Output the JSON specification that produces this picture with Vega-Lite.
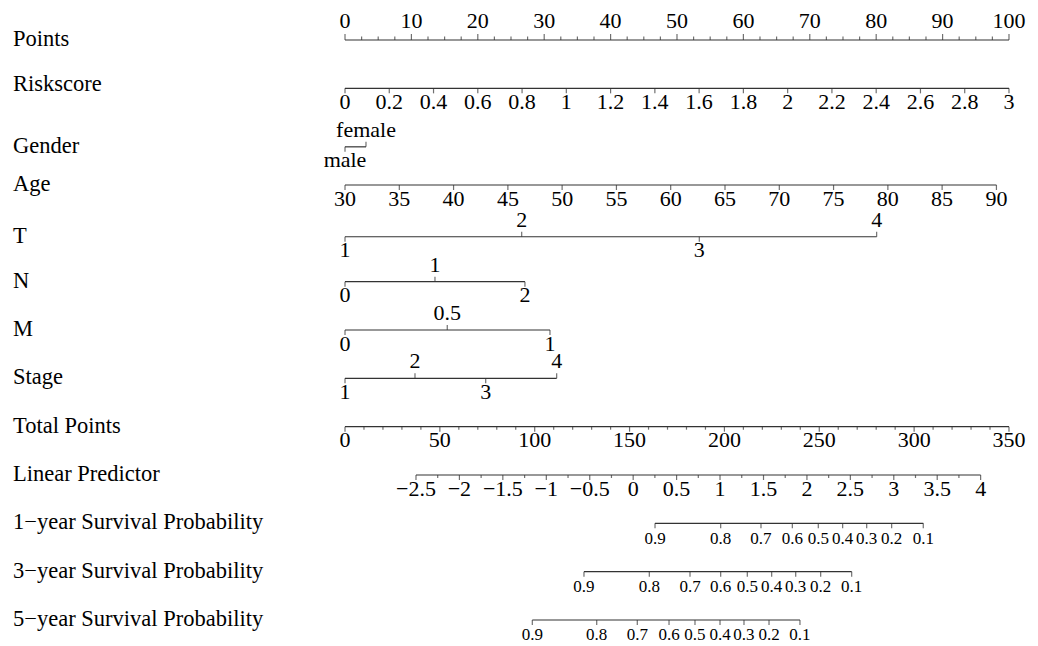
{
  "$schema": "https://vega.github.io/schema/vega-lite/v6.json",
  "width": 1038,
  "height": 646,
  "padding": 0,
  "autosize": {"type": "fit", "contains": "padding"},
  "background": "white",
  "config": {"view": {"stroke": null}},
  "datasets": {
    "lines": [
      {"r": 0, "p1": 0, "p2": 100},
      {"r": 1, "p1": 0, "p2": 100},
      {"r": 2.21, "p1": 0, "p2": 3.16},
      {"r": 3, "p1": 0, "p2": 98.11},
      {"r": 4.07, "p1": 0, "p2": 80.07},
      {"r": 5, "p1": 0, "p2": 27.1},
      {"r": 6, "p1": 0, "p2": 30.87},
      {"r": 7, "p1": 0, "p2": 31.88},
      {"r": 8, "p1": 0, "p2": 100},
      {"r": 9, "p1": 10.69, "p2": 95.73},
      {"r": 10, "p1": 46.69, "p2": 87.09},
      {"r": 11, "p1": 35.99, "p2": 76.31},
      {"r": 12, "p1": 28.21, "p2": 68.52}
    ],
    "names": [
      {"r": 0, "name": "Points"},
      {"r": 0.93, "name": "Riskscore"},
      {"r": 2.21, "name": "Gender"},
      {"r": 3, "name": "Age"},
      {"r": 4.07, "name": "T"},
      {"r": 5, "name": "N"},
      {"r": 6, "name": "M"},
      {"r": 7, "name": "Stage"},
      {"r": 8, "name": "Total Points"},
      {"r": 9, "name": "Linear Predictor"},
      {"r": 10, "name": "1−year Survival Probability"},
      {"r": 11, "name": "3−year Survival Probability"},
      {"r": 12, "name": "5−year Survival Probability"}
    ],
    "ticks": [
      {"r":0,"p":0,"t":"0","s":"a"},{"r":0,"p":2.5,"t":"","s":"a"},{"r":0,"p":5,"t":"","s":"a"},{"r":0,"p":7.5,"t":"","s":"a"},
      {"r":0,"p":10,"t":"10","s":"a"},{"r":0,"p":12.5,"t":"","s":"a"},{"r":0,"p":15,"t":"","s":"a"},{"r":0,"p":17.5,"t":"","s":"a"},
      {"r":0,"p":20,"t":"20","s":"a"},{"r":0,"p":22.5,"t":"","s":"a"},{"r":0,"p":25,"t":"","s":"a"},{"r":0,"p":27.5,"t":"","s":"a"},
      {"r":0,"p":30,"t":"30","s":"a"},{"r":0,"p":32.5,"t":"","s":"a"},{"r":0,"p":35,"t":"","s":"a"},{"r":0,"p":37.5,"t":"","s":"a"},
      {"r":0,"p":40,"t":"40","s":"a"},{"r":0,"p":42.5,"t":"","s":"a"},{"r":0,"p":45,"t":"","s":"a"},{"r":0,"p":47.5,"t":"","s":"a"},
      {"r":0,"p":50,"t":"50","s":"a"},{"r":0,"p":52.5,"t":"","s":"a"},{"r":0,"p":55,"t":"","s":"a"},{"r":0,"p":57.5,"t":"","s":"a"},
      {"r":0,"p":60,"t":"60","s":"a"},{"r":0,"p":62.5,"t":"","s":"a"},{"r":0,"p":65,"t":"","s":"a"},{"r":0,"p":67.5,"t":"","s":"a"},
      {"r":0,"p":70,"t":"70","s":"a"},{"r":0,"p":72.5,"t":"","s":"a"},{"r":0,"p":75,"t":"","s":"a"},{"r":0,"p":77.5,"t":"","s":"a"},
      {"r":0,"p":80,"t":"80","s":"a"},{"r":0,"p":82.5,"t":"","s":"a"},{"r":0,"p":85,"t":"","s":"a"},{"r":0,"p":87.5,"t":"","s":"a"},
      {"r":0,"p":90,"t":"90","s":"a"},{"r":0,"p":92.5,"t":"","s":"a"},{"r":0,"p":95,"t":"","s":"a"},{"r":0,"p":97.5,"t":"","s":"a"},
      {"r":0,"p":100,"t":"100","s":"a"},

      {"r":1,"p":0,"t":"0","s":"b"},{"r":1,"p":6.667,"t":"0.2","s":"b"},{"r":1,"p":13.333,"t":"0.4","s":"b"},{"r":1,"p":20,"t":"0.6","s":"b"},
      {"r":1,"p":26.667,"t":"0.8","s":"b"},{"r":1,"p":33.333,"t":"1","s":"b"},{"r":1,"p":40,"t":"1.2","s":"b"},{"r":1,"p":46.667,"t":"1.4","s":"b"},
      {"r":1,"p":53.333,"t":"1.6","s":"b"},{"r":1,"p":60,"t":"1.8","s":"b"},{"r":1,"p":66.667,"t":"2","s":"b"},{"r":1,"p":73.333,"t":"2.2","s":"b"},
      {"r":1,"p":80,"t":"2.4","s":"b"},{"r":1,"p":86.667,"t":"2.6","s":"b"},{"r":1,"p":93.333,"t":"2.8","s":"b"},{"r":1,"p":100,"t":"3","s":"b"},

      {"r":2.21,"p":0,"t":"male","s":"b"},{"r":2.21,"p":3.16,"t":"female","s":"a"},

      {"r":3,"p":0,"t":"30","s":"b"},{"r":3,"p":8.18,"t":"35","s":"b"},{"r":3,"p":16.35,"t":"40","s":"b"},{"r":3,"p":24.53,"t":"45","s":"b"},
      {"r":3,"p":32.7,"t":"50","s":"b"},{"r":3,"p":40.88,"t":"55","s":"b"},{"r":3,"p":49.05,"t":"60","s":"b"},{"r":3,"p":57.23,"t":"65","s":"b"},
      {"r":3,"p":65.41,"t":"70","s":"b"},{"r":3,"p":73.58,"t":"75","s":"b"},{"r":3,"p":81.76,"t":"80","s":"b"},{"r":3,"p":89.93,"t":"85","s":"b"},
      {"r":3,"p":98.11,"t":"90","s":"b"},

      {"r":4.07,"p":0,"t":"1","s":"b"},{"r":4.07,"p":26.61,"t":"2","s":"a"},{"r":4.07,"p":53.36,"t":"3","s":"b"},{"r":4.07,"p":80.07,"t":"4","s":"a"},

      {"r":5,"p":0,"t":"0","s":"b"},{"r":5,"p":13.55,"t":"1","s":"a"},{"r":5,"p":27.1,"t":"2","s":"b"},

      {"r":6,"p":0,"t":"0","s":"b"},{"r":6,"p":15.4,"t":"0.5","s":"a"},{"r":6,"p":30.87,"t":"1","s":"b"},

      {"r":7,"p":0,"t":"1","s":"b"},{"r":7,"p":10.54,"t":"2","s":"a"},{"r":7,"p":21.19,"t":"3","s":"b"},{"r":7,"p":31.88,"t":"4","s":"a"},

      {"r":8,"p":0,"t":"0","s":"b"},{"r":8,"p":2.857,"t":"","s":"b"},{"r":8,"p":5.714,"t":"","s":"b"},{"r":8,"p":8.571,"t":"","s":"b"},{"r":8,"p":11.429,"t":"","s":"b"},
      {"r":8,"p":14.286,"t":"50","s":"b"},{"r":8,"p":17.143,"t":"","s":"b"},{"r":8,"p":20,"t":"","s":"b"},{"r":8,"p":22.857,"t":"","s":"b"},{"r":8,"p":25.714,"t":"","s":"b"},
      {"r":8,"p":28.571,"t":"100","s":"b"},{"r":8,"p":31.429,"t":"","s":"b"},{"r":8,"p":34.286,"t":"","s":"b"},{"r":8,"p":37.143,"t":"","s":"b"},{"r":8,"p":40,"t":"","s":"b"},
      {"r":8,"p":42.857,"t":"150","s":"b"},{"r":8,"p":45.714,"t":"","s":"b"},{"r":8,"p":48.571,"t":"","s":"b"},{"r":8,"p":51.429,"t":"","s":"b"},{"r":8,"p":54.286,"t":"","s":"b"},
      {"r":8,"p":57.143,"t":"200","s":"b"},{"r":8,"p":60,"t":"","s":"b"},{"r":8,"p":62.857,"t":"","s":"b"},{"r":8,"p":65.714,"t":"","s":"b"},{"r":8,"p":68.571,"t":"","s":"b"},
      {"r":8,"p":71.429,"t":"250","s":"b"},{"r":8,"p":74.286,"t":"","s":"b"},{"r":8,"p":77.143,"t":"","s":"b"},{"r":8,"p":80,"t":"","s":"b"},{"r":8,"p":82.857,"t":"","s":"b"},
      {"r":8,"p":85.714,"t":"300","s":"b"},{"r":8,"p":88.571,"t":"","s":"b"},{"r":8,"p":91.429,"t":"","s":"b"},{"r":8,"p":94.286,"t":"","s":"b"},{"r":8,"p":97.143,"t":"","s":"b"},
      {"r":8,"p":100,"t":"350","s":"b"},

      {"r":9,"p":10.69,"t":"−2.5","s":"b"},{"r":9,"p":13.96,"t":"","s":"b"},{"r":9,"p":17.23,"t":"−2","s":"b"},{"r":9,"p":20.5,"t":"","s":"b"},
      {"r":9,"p":23.77,"t":"−1.5","s":"b"},{"r":9,"p":27.05,"t":"","s":"b"},{"r":9,"p":30.32,"t":"−1","s":"b"},{"r":9,"p":33.59,"t":"","s":"b"},
      {"r":9,"p":36.86,"t":"−0.5","s":"b"},{"r":9,"p":40.13,"t":"","s":"b"},{"r":9,"p":43.4,"t":"0","s":"b"},{"r":9,"p":46.67,"t":"","s":"b"},
      {"r":9,"p":49.94,"t":"0.5","s":"b"},{"r":9,"p":53.21,"t":"","s":"b"},{"r":9,"p":56.48,"t":"1","s":"b"},{"r":9,"p":59.75,"t":"","s":"b"},
      {"r":9,"p":63.03,"t":"1.5","s":"b"},{"r":9,"p":66.3,"t":"","s":"b"},{"r":9,"p":69.57,"t":"2","s":"b"},{"r":9,"p":72.84,"t":"","s":"b"},
      {"r":9,"p":76.11,"t":"2.5","s":"b"},{"r":9,"p":79.38,"t":"","s":"b"},{"r":9,"p":82.65,"t":"3","s":"b"},{"r":9,"p":85.92,"t":"","s":"b"},
      {"r":9,"p":89.19,"t":"3.5","s":"b"},{"r":9,"p":92.46,"t":"","s":"b"},{"r":9,"p":95.73,"t":"4","s":"b"},

      {"r":10,"p":46.69,"t":"0.9","s":"b"},{"r":10,"p":56.58,"t":"0.8","s":"b"},{"r":10,"p":62.65,"t":"0.7","s":"b"},{"r":10,"p":67.37,"t":"0.6","s":"b"},
      {"r":10,"p":71.28,"t":"0.5","s":"b"},{"r":10,"p":74.95,"t":"0.4","s":"b"},{"r":10,"p":78.57,"t":"0.3","s":"b"},{"r":10,"p":82.33,"t":"0.2","s":"b"},
      {"r":10,"p":87.09,"t":"0.1","s":"b"},

      {"r":11,"p":35.99,"t":"0.9","s":"b"},{"r":11,"p":45.83,"t":"0.8","s":"b"},{"r":11,"p":51.96,"t":"0.7","s":"b"},{"r":11,"p":56.58,"t":"0.6","s":"b"},
      {"r":11,"p":60.59,"t":"0.5","s":"b"},{"r":11,"p":64.26,"t":"0.4","s":"b"},{"r":11,"p":67.88,"t":"0.3","s":"b"},{"r":11,"p":71.64,"t":"0.2","s":"b"},
      {"r":11,"p":76.31,"t":"0.1","s":"b"},

      {"r":12,"p":28.21,"t":"0.9","s":"b"},{"r":12,"p":37.91,"t":"0.8","s":"b"},{"r":12,"p":44.02,"t":"0.7","s":"b"},{"r":12,"p":48.8,"t":"0.6","s":"b"},
      {"r":12,"p":52.71,"t":"0.5","s":"b"},{"r":12,"p":56.48,"t":"0.4","s":"b"},{"r":12,"p":60.09,"t":"0.3","s":"b"},{"r":12,"p":63.86,"t":"0.2","s":"b"},
      {"r":12,"p":68.52,"t":"0.1","s":"b"}
    ]
  },
  "layer": [
    {
      "data": {"name": "lines"},
      "mark": {"type": "rule", "color": "#333333", "strokeWidth": 1.2},
      "encoding": {
        "x": {"field": "p1", "type": "quantitative", "axis": null, "scale": {"domain": [-51.96, 104.37], "nice": false, "zero": false}},
        "x2": {"field": "p2"},
        "y": {"field": "r", "type": "quantitative", "axis": null, "scale": {"domain": [-0.828, 12.538], "reverse": true, "nice": false, "zero": false}}
      }
    },
    {
      "data": {"name": "ticks"},
      "transform": [{"filter": "datum.r == 0 && datum.t != ''"}],
      "mark": {"type": "tick", "orient": "vertical", "color": "#333333", "thickness": 1.2, "size": 6, "yOffset": -3},
      "encoding": {
        "x": {"field": "p", "type": "quantitative"},
        "y": {"field": "r", "type": "quantitative"}
      }
    },
    {
      "data": {"name": "ticks"},
      "transform": [{"filter": "datum.r == 0 && datum.t == ''"}],
      "mark": {"type": "tick", "orient": "vertical", "color": "#333333", "thickness": 1.2, "size": 3.5, "yOffset": -1.75},
      "encoding": {
        "x": {"field": "p", "type": "quantitative"},
        "y": {"field": "r", "type": "quantitative"}
      }
    },
    {
      "data": {"name": "ticks"},
      "transform": [{"filter": "datum.r > 0 && datum.s == 'a'"}],
      "mark": {"type": "tick", "orient": "vertical", "color": "#333333", "thickness": 1.2, "size": 5, "yOffset": -2.5},
      "encoding": {
        "x": {"field": "p", "type": "quantitative"},
        "y": {"field": "r", "type": "quantitative"}
      }
    },
    {
      "data": {"name": "ticks"},
      "transform": [{"filter": "datum.s == 'b' && datum.t != ''"}],
      "mark": {"type": "tick", "orient": "vertical", "color": "#333333", "thickness": 1.2, "size": 5, "yOffset": 2.5},
      "encoding": {
        "x": {"field": "p", "type": "quantitative"},
        "y": {"field": "r", "type": "quantitative"}
      }
    },
    {
      "data": {"name": "ticks"},
      "transform": [{"filter": "datum.s == 'b' && datum.t == ''"}],
      "mark": {"type": "tick", "orient": "vertical", "color": "#333333", "thickness": 1.2, "size": 3, "yOffset": 1.5},
      "encoding": {
        "x": {"field": "p", "type": "quantitative"},
        "y": {"field": "r", "type": "quantitative"}
      }
    },
    {
      "data": {"name": "ticks"},
      "transform": [{"filter": "datum.r == 0 && datum.t != ''"}],
      "mark": {"type": "text", "font": "Liberation Serif", "fontSize": 22, "color": "#000000", "align": "center", "baseline": "alphabetic", "dy": -12},
      "encoding": {
        "x": {"field": "p", "type": "quantitative"},
        "y": {"field": "r", "type": "quantitative"},
        "text": {"field": "t"}
      }
    },
    {
      "data": {"name": "ticks"},
      "transform": [{"filter": "datum.r > 0 && datum.s == 'a'"}],
      "mark": {"type": "text", "font": "Liberation Serif", "fontSize": 22, "color": "#000000", "align": "center", "baseline": "alphabetic", "dy": -10},
      "encoding": {
        "x": {"field": "p", "type": "quantitative"},
        "y": {"field": "r", "type": "quantitative"},
        "text": {"field": "t"}
      }
    },
    {
      "data": {"name": "ticks"},
      "transform": [{"filter": "datum.r < 10 && datum.s == 'b' && datum.t != ''"}],
      "mark": {"type": "text", "font": "Liberation Serif", "fontSize": 22, "color": "#000000", "align": "center", "baseline": "alphabetic", "dy": 20.5},
      "encoding": {
        "x": {"field": "p", "type": "quantitative"},
        "y": {"field": "r", "type": "quantitative"},
        "text": {"field": "t"}
      }
    },
    {
      "data": {"name": "ticks"},
      "transform": [{"filter": "datum.r >= 10"}],
      "mark": {"type": "text", "font": "Liberation Serif", "fontSize": 17, "color": "#000000", "align": "center", "baseline": "alphabetic", "dy": 20.5},
      "encoding": {
        "x": {"field": "p", "type": "quantitative"},
        "y": {"field": "r", "type": "quantitative"},
        "text": {"field": "t"}
      }
    },
    {
      "data": {"name": "names"},
      "mark": {"type": "text", "font": "Liberation Serif", "fontSize": 22.5, "color": "#000000", "align": "left", "baseline": "alphabetic", "dy": 6},
      "encoding": {
        "x": {"datum": -50, "type": "quantitative"},
        "y": {"field": "r", "type": "quantitative"},
        "text": {"field": "name"}
      }
    }
  ]
}
